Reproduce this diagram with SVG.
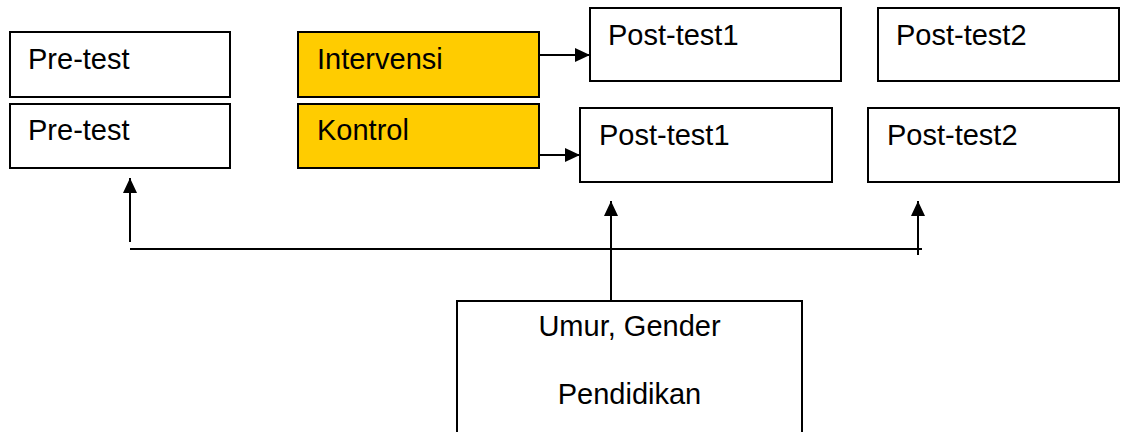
<svg xmlns="http://www.w3.org/2000/svg" width="1121" height="432" viewBox="0 0 1121 432">
<style>
.box{fill:#fff;stroke:#000;stroke-width:2}
.yel{fill:#FFCC00;stroke:#000;stroke-width:2}
text{font-family:"Liberation Sans",Arial,sans-serif;font-size:29px;fill:#000}
.ln{stroke:#000;stroke-width:2;fill:none}
</style>
<defs>
<marker id="ah" markerWidth="16" markerHeight="16" viewBox="0 0 16 16" refX="15" refY="8" orient="auto" markerUnits="userSpaceOnUse">
<path d="M0,1 L15,8 L0,15 Z" fill="#000"/>
</marker>
</defs>
<g id="pretest1"><rect class="box" x="10" y="32" width="220" height="65"/><text x="28" y="69">Pre-test</text></g>
<g id="pretest2"><rect class="box" x="10" y="104" width="220" height="64"/><text x="28" y="140">Pre-test</text></g>
<g id="intervensi"><rect class="yel" x="298" y="32" width="241" height="65"/><text x="317" y="69">Intervensi</text></g>
<g id="kontrol"><rect class="yel" x="298" y="104" width="241" height="64"/><text x="317" y="140">Kontrol</text></g>
<g id="posttest1a"><rect class="box" x="590" y="8" width="251" height="73"/><text x="608" y="45">Post-test1</text></g>
<g id="posttest2a"><rect class="box" x="878" y="8" width="241" height="73"/><text x="896" y="45">Post-test2</text></g>
<g id="posttest1b"><rect class="box" x="580" y="108" width="252" height="74"/><text x="599" y="145">Post-test1</text></g>
<g id="posttest2b"><rect class="box" x="868" y="108" width="251" height="74"/><text x="887" y="145">Post-test2</text></g>
<g id="faktor"><rect class="box" x="457" y="301" width="345" height="140"/><text x="629.5" y="336" text-anchor="middle">Umur, Gender</text><text x="629.5" y="404" text-anchor="middle">Pendidikan</text></g>
<g id="connectors">
<line class="ln" x1="539" y1="55" x2="590" y2="55" marker-end="url(#ah)"/>
<line class="ln" x1="539" y1="155" x2="580" y2="155" marker-end="url(#ah)"/>
<line class="ln" x1="130" y1="249" x2="922" y2="249"/>
<line class="ln" x1="130" y1="242" x2="130" y2="178" marker-end="url(#ah)"/>
<line class="ln" x1="611" y1="301" x2="611" y2="201" marker-end="url(#ah)"/>
<line class="ln" x1="918" y1="255" x2="918" y2="201" marker-end="url(#ah)"/>
</g>
</svg>
